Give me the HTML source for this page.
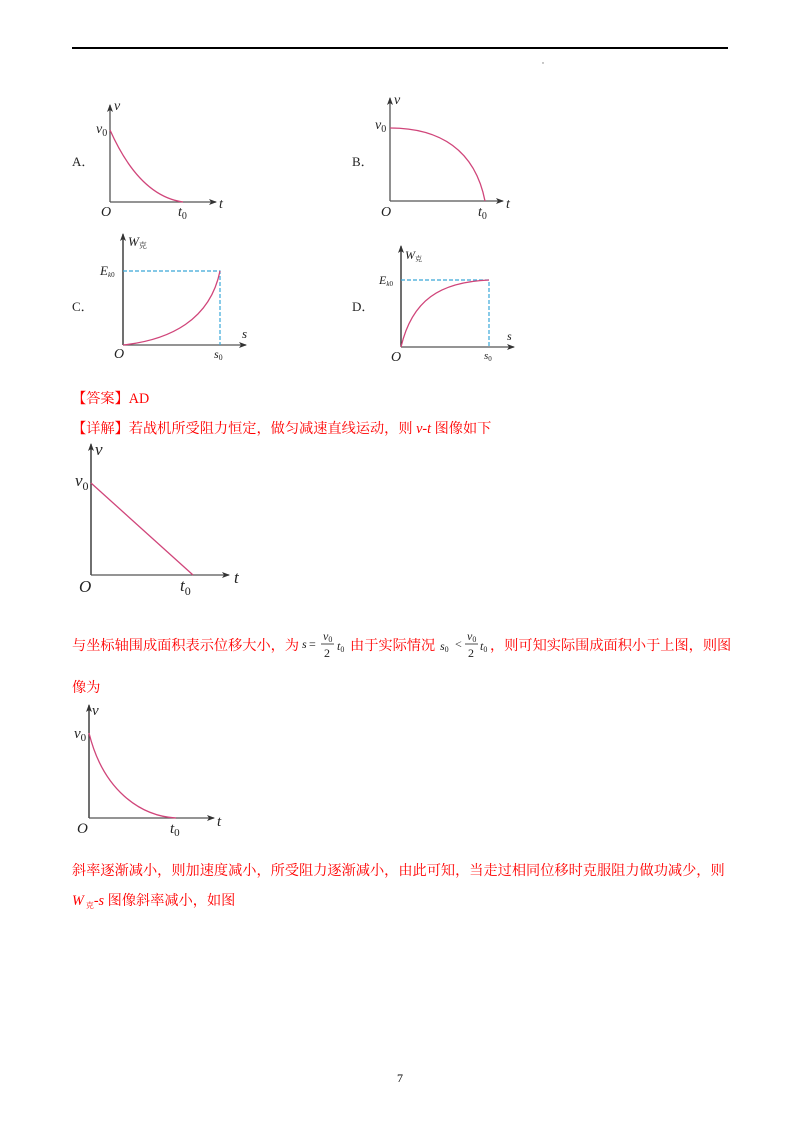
<!DOCTYPE html>
<html><head><meta charset="utf-8"><style>
html,body{margin:0;padding:0;background:#fff;width:800px;height:1132px;overflow:hidden}
svg{display:block}
.s{font-family:"Liberation Serif","Noto Serif CJK SC",serif;}
.c{font-family:"Liberation Serif","Noto Serif CJK SC","Noto Sans CJK SC",serif;font-size:14.2px;fill:#ff0000}
.i{font-style:italic}
</style></head><body>
<svg width="800" height="1132" viewBox="0 0 800 1132" xmlns="http://www.w3.org/2000/svg">
<defs>
<marker id="ar" markerWidth="8" markerHeight="8" refX="7" refY="4" orient="auto" markerUnits="userSpaceOnUse"><path d="M0,1 L8,4 L0,7 L2,4z" fill="#333"/></marker>
</defs>
<line x1="72" y1="48" x2="728" y2="48" stroke="#000" stroke-width="2"/>
<circle cx="543" cy="63" r="0.7" fill="#777"/>

<g class="s" fill="#222" stroke="none">
<text x="72" y="166" font-size="13">A．</text>
<text x="352" y="166" font-size="13">B．</text>
<text x="72" y="311" font-size="13">C．</text>
<text x="352" y="311" font-size="13">D．</text>
</g>
<g stroke="#555" stroke-width="1.3" fill="none">
<line x1="110" y1="202" x2="110" y2="105" marker-end="url(#ar)"/>
<line x1="110" y1="202" x2="216" y2="202" marker-end="url(#ar)"/>
<line x1="390" y1="201" x2="390" y2="98" marker-end="url(#ar)"/>
<line x1="390" y1="201" x2="503" y2="201" marker-end="url(#ar)"/>
<line x1="123" y1="345" x2="123" y2="234" marker-end="url(#ar)" stroke="#222"/>
<line x1="123" y1="345" x2="246" y2="345" marker-end="url(#ar)"/>
<line x1="401" y1="347" x2="401" y2="246" marker-end="url(#ar)" stroke="#222"/>
<line x1="401" y1="347" x2="514" y2="347" marker-end="url(#ar)"/>
<line x1="91" y1="575" x2="91" y2="444" marker-end="url(#ar)" stroke="#222"/>
<line x1="91" y1="575" x2="229" y2="575" marker-end="url(#ar)"/>
<line x1="89" y1="818" x2="89" y2="705" marker-end="url(#ar)" stroke="#222"/>
<line x1="89" y1="818" x2="214" y2="818" marker-end="url(#ar)"/>
</g>
<g stroke="#3aa8d8" stroke-width="1.2" stroke-dasharray="4,2" fill="none">
<polyline points="123,271 220,271 220,345"/>
<polyline points="401,280 489,280 489,347"/>
</g>
<g stroke="#d0457a" stroke-width="1.3" fill="none">
<path d="M110,130 C130,175 155,198 183,202"/>
<path d="M390,128 C440,128 475,150 485,201"/>
<path d="M123,345 C170,340 210,320 220,271"/>
<path d="M401,347 C412,300 440,282 489,280"/>
<line x1="91" y1="483" x2="193" y2="575"/>
<path d="M89,733 C103,790 140,816 176,818"/>
</g>
<g class="s i" fill="#222">
<text x="114" y="110" font-size="14">v</text>
<text x="96" y="133" font-size="14">v<tspan font-size="10" dy="3" font-style="normal">0</tspan></text>
<text x="101" y="216" font-size="14">O</text>
<text x="178" y="216" font-size="14">t<tspan font-size="10" dy="3" font-style="normal">0</tspan></text>
<text x="219" y="208" font-size="14">t</text>

<text x="394" y="104" font-size="14">v</text>
<text x="375" y="129" font-size="14">v<tspan font-size="10" dy="3" font-style="normal">0</tspan></text>
<text x="381" y="216" font-size="14">O</text>
<text x="478" y="216" font-size="14">t<tspan font-size="10" dy="3" font-style="normal">0</tspan></text>
<text x="506" y="208" font-size="14">t</text>

<text x="128" y="246" font-size="13">W<tspan font-size="8" font-style="normal" dy="2">克</tspan></text>
<text x="100" y="275" font-size="13">E<tspan font-size="7" dy="2">k</tspan><tspan font-size="7" font-style="normal">0</tspan></text>
<text x="114" y="358" font-size="14">O</text>
<text x="214" y="358" font-size="12">s<tspan font-size="8" dy="2" font-style="normal">0</tspan></text>
<text x="242" y="338" font-size="13">s</text>

<text x="405" y="259" font-size="12">W<tspan font-size="7" font-style="normal" dy="2">克</tspan></text>
<text x="379" y="284" font-size="12">E<tspan font-size="7" dy="2">k</tspan><tspan font-size="7" font-style="normal">0</tspan></text>
<text x="391" y="361" font-size="14">O</text>
<text x="484" y="359" font-size="11">s<tspan font-size="7" dy="2" font-style="normal">0</tspan></text>
<text x="507" y="340" font-size="12">s</text>

<text x="95" y="455" font-size="17">v</text>
<text x="75" y="486" font-size="17">v<tspan font-size="12" dy="4" font-style="normal">0</tspan></text>
<text x="79" y="592" font-size="17">O</text>
<text x="180" y="591" font-size="17">t<tspan font-size="12" dy="4" font-style="normal">0</tspan></text>
<text x="234" y="583" font-size="17">t</text>

<text x="92" y="715" font-size="15">v</text>
<text x="74" y="738" font-size="15">v<tspan font-size="11" dy="3" font-style="normal">0</tspan></text>
<text x="77" y="833" font-size="15">O</text>
<text x="170" y="833" font-size="15">t<tspan font-size="11" dy="3" font-style="normal">0</tspan></text>
<text x="217" y="826" font-size="15">t</text>
</g>

<text class="c" x="72" y="403">【答案】AD</text>
<text class="c" x="72" y="433">【详解】若战机所受阻力恒定，做匀减速直线运动，则 <tspan class="i">v-t</tspan> 图像如下</text>
<text class="c" x="72" y="650">与坐标轴围成面积表示位移大小，为</text>
<g class="s i" fill="#222" font-size="12">
<text x="302" y="648">s</text><text x="309" y="648" font-style="normal">=</text>
<text x="323" y="640">v<tspan font-size="8" dy="2" font-style="normal">0</tspan></text>
<line x1="321" y1="644" x2="334" y2="644" stroke="#222" stroke-width="0.8"/>
<text x="324" y="657" font-style="normal">2</text>
<text x="337" y="650">t<tspan font-size="8" dy="2" font-style="normal">0</tspan></text>
<text x="440" y="650">s<tspan font-size="8" dy="2" font-style="normal">0</tspan></text>
<text x="455" y="648" font-style="normal">&lt;</text>
<text x="467" y="640">v<tspan font-size="8" dy="2" font-style="normal">0</tspan></text>
<line x1="465" y1="644" x2="478" y2="644" stroke="#222" stroke-width="0.8"/>
<text x="468" y="657" font-style="normal">2</text>
<text x="480" y="650">t<tspan font-size="8" dy="2" font-style="normal">0</tspan></text>
</g>
<text class="c" x="350" y="650">由于实际情况</text>
<text class="c" x="490" y="650">，则可知实际围成面积小于上图，则图</text>
<text class="c" x="72" y="692">像为</text>
<text class="c" x="72" y="875">斜率逐渐减小，则加速度减小，所受阻力逐渐减小，由此可知，当走过相同位移时克服阻力做功减少，则</text>
<text class="c" x="72" y="905"><tspan class="i">W</tspan><tspan font-size="8" dy="3"> 克</tspan><tspan dy="-3" class="i">-s</tspan> 图像斜率减小，如图</text>
<text x="400" y="1082" font-family="Liberation Serif, serif" font-size="12" fill="#000" text-anchor="middle">7</text>
</svg>
</body></html>
